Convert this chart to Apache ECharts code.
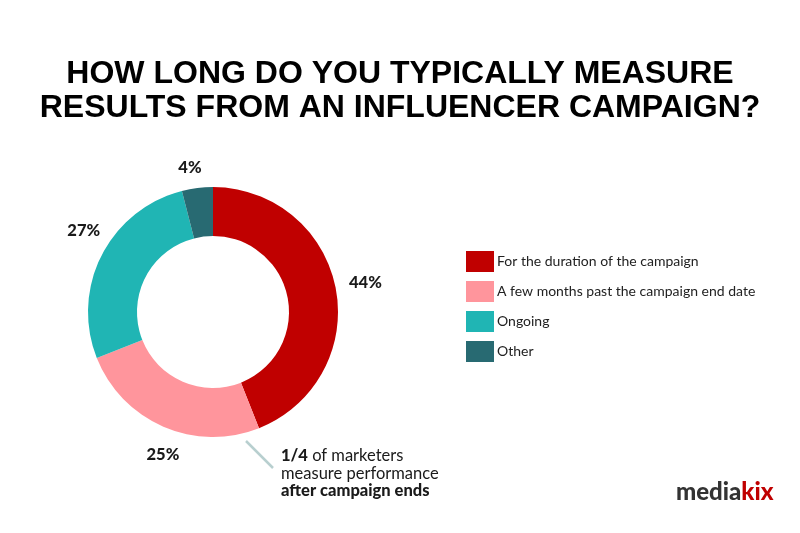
<!DOCTYPE html>
<html><head><meta charset="utf-8">
<script src="https://cdn.jsdelivr.net/npm/echarts@6/dist/echarts.min.js"></script>
<style>html,body{margin:0;padding:0;background:#fff}#c{width:800px;height:533px}</style>
</head><body><div id="c"></div>
<script>
const categories = ['For the duration of the campaign','A few months past the campaign end date','Ongoing','Other'];
const values = [44, 25, 27, 4];
const colors = ['#C00000','#FF959C','#20B5B4','#286A72'];
const titleLines = ['HOW LONG DO YOU TYPICALLY MEASURE','RESULTS FROM AN INFLUENCER CAMPAIGN?'];

const chart = echarts.init(document.getElementById('c'));
chart.setOption({
  backgroundColor:'#fff',
  animation:false,
  title:{
    text: titleLines.join('\n'),
    left:'center', top:52,
    textStyle:{fontFamily:'Liberation Sans', fontWeight:'bold', fontSize:32, lineHeight:34, color:'#000'}
  },
  legend:{
    orient:'vertical', left:461, top:246,
    itemWidth:28, itemHeight:21, itemGap:9,
    icon:'rect',
    data: categories,
    textStyle:{fontFamily:'Lato, Noto Sans', fontSize:14, color:'#222', padding:[0,0,0,-2]}
  },
  series:[{
    type:'pie',
    center:[213,312],
    radius:[76,125],
    startAngle:90,
    clockwise:true,
    label:{
      show:true, position:'outside',
      formatter:'{c}%',
      fontFamily:'Lato, Noto Sans', fontWeight:900, fontSize:16.5, color:'#1a1a1a'
    },
    labelLine:{show:false, length:14, length2:0},
    labelLayout: function (p) {
      const shift = [[-5.5,-3],[26.5,15],[16,-18],[11,-6]];
      return {dx: shift[p.dataIndex][0], dy: shift[p.dataIndex][1]};
    },
    emphasis:{disabled:true},
    data: categories.map((n,i)=>({name:n, value:values[i], itemStyle:{color:colors[i]}}))
  }],
  graphic:[
    {type:'line', shape:{x1:246,y1:441,x2:273,y2:468}, style:{stroke:'#b8cfcf', lineWidth:2.5}},
    {type:'text', left:281, top:447, style:{
      text:'{b|1/4} of marketers\nmeasure performance\n{b|after campaign ends}',
      rich:{b:{fontWeight:900, fontFamily:'Lato, Noto Sans', fontSize:16.5, fill:'#1a1a1a'}},
      fontFamily:'Lato, Noto Sans', fontSize:16.5, lineHeight:17.5, fill:'#1a1a1a'}},
    {type:'text', left:676, top:480, style:{
      text:'{m|media}{k|kix}',
      rich:{m:{fontFamily:'Lato, Noto Sans', fontWeight:900, fontSize:24, fill:'#333'},
            k:{fontFamily:'Lato, Noto Sans', fontWeight:900, fontSize:24, fill:'#C00000'}}}}
  ]
});
</script></body></html>
